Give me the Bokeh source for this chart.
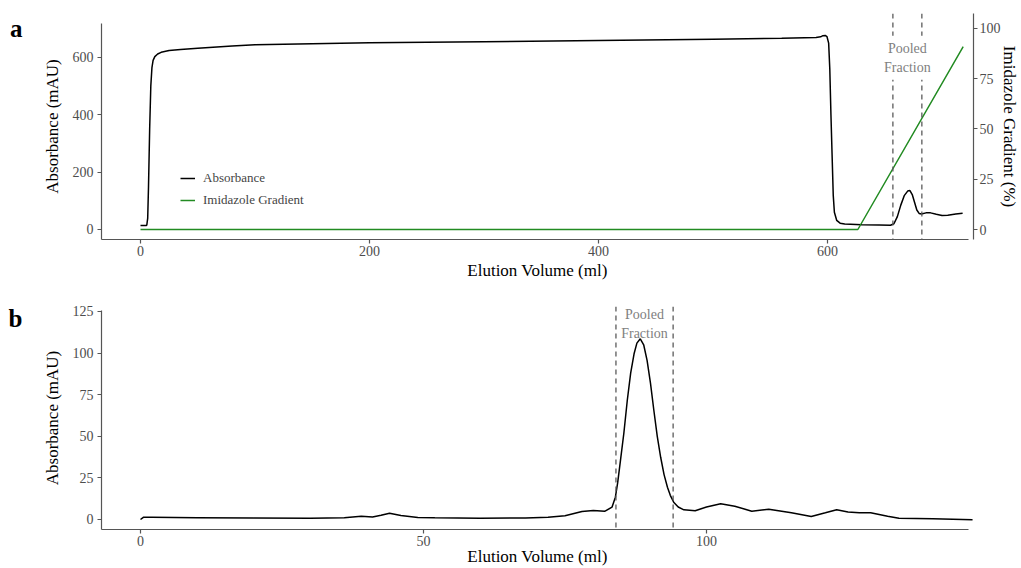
from bokeh.plotting import figure
from bokeh.models import (Range1d, LinearAxis, FixedTicker, Span, Label,
                          Legend, LegendItem)
from bokeh.layouts import column
from bokeh.embed import file_html
from bokeh.resources import INLINE

FONT = "Liberation Serif"

# ---------------- panel a : affinity chromatography ----------------
abs_a_ml = [0, 5, 5.5, 6.3, 7, 8, 9, 10, 11, 12.5, 15, 18, 25, 35, 50, 80, 100,
            150, 200, 300, 400, 500, 560, 590, 594, 596, 598, 599.5, 601, 602,
            603, 604, 605, 606, 608, 611, 615, 630, 645, 655, 658, 661, 664,
            667, 670, 672, 674, 676, 678, 680, 682, 686, 690, 695, 700, 705,
            712, 718]
abs_a_mau = [14, 14, 15, 40, 150, 350, 500, 565, 590, 603, 612, 618, 624, 628,
             632, 640, 644, 648, 651, 655, 659, 664, 667, 670, 672, 676, 677,
             673, 650, 560, 400, 260, 120, 60, 32, 22, 19, 17, 16, 15, 20, 45,
             85, 118, 134, 136, 122, 95, 68, 56, 54, 58, 58, 53, 49, 50, 54, 57]
grad_ml = [0, 626.5, 718.5]
grad_pct = [0, 0, 91]
pooled_a = [657.1, 682.4]
xticks_a = [0, 200, 400, 600]
yticks_a = [0, 200, 400, 600]
yticks_a_right = [0, 25, 50, 75, 100]

# ---------------- panel b : size exclusion ----------------
abs_b_ml = [0, 0.5, 2, 10, 20, 30, 36, 39, 41, 42.5, 44, 46, 49, 52, 60, 68,
            72, 75, 78, 80, 82, 83.3, 83.9, 84.3, 84.8, 85.4, 86.0, 86.6, 87.2,
            87.7, 88.3, 88.9, 89.5, 90.1, 90.7, 91.3, 91.9, 92.5, 93.1, 93.6,
            94.2, 95, 96, 98, 100, 102.5, 105, 108, 111, 115, 118.5, 121,
            123, 125, 127, 129, 132, 134, 140, 147]
abs_b_mau = [0, 1.3, 1.3, 1.1, 0.9, 0.8, 1.1, 2.0, 1.5, 2.5, 3.8, 2.4, 1.2,
             1.0, 0.8, 0.9, 1.3, 2.2, 4.8, 5.4, 4.9, 7.4, 13.4, 22, 35.5, 52,
             71.5, 88, 99.6, 106, 108.6, 105, 95.6, 82, 65.5, 50, 37.4, 27,
             19.4, 14.5, 10.4, 7.5, 5.8, 5.3, 7.5, 9.4, 8, 5, 6.2, 4, 1.8, 4,
             5.8, 4.5, 4.0, 4.0, 2, 0.8, 0.5, -0.2]
pooled_b = [84.0, 94.1]
xticks_b = [0, 50, 100]
yticks_b = [0, 25, 50, 75, 100, 125]

AXIS_COL = "#555555"


def style_axis(ax, ticks):
    ax.ticker = FixedTicker(ticks=ticks)
    ax.minor_tick_line_color = None
    ax.major_tick_out = 4
    ax.major_tick_in = 0
    ax.axis_line_color = AXIS_COL
    ax.axis_line_width = 1.2
    ax.major_tick_line_color = AXIS_COL
    ax.major_tick_line_width = 1.2
    ax.major_label_text_font = FONT
    ax.major_label_text_font_size = "14px"
    ax.major_label_text_color = "#4d4d4d"
    ax.axis_label_text_font = FONT
    ax.axis_label_text_font_size = "17px"
    ax.axis_label_text_font_style = "normal"
    ax.axis_label_text_color = "black"


def base_fig(height, xr, yr, top, bottom):
    p = figure(width=1021, height=height, x_range=xr, y_range=yr,
               output_backend="svg", toolbar_location=None,
               min_border_left=101, min_border_right=48,
               min_border_top=top, min_border_bottom=bottom)
    p.outline_line_color = None
    p.xgrid.visible = False
    p.ygrid.visible = False
    p.background_fill_color = "white"
    p.border_fill_color = "white"
    return p


def add_pooled(p, bounds, y_pooled, y_fraction, boxed):
    for b in bounds:
        p.add_layout(Span(location=b, dimension="height", line_color="#5a5a5a",
                          line_dash="5 4", line_width=1.3))
    mid = (bounds[0] + bounds[1]) / 2
    for txt, yy in (("Pooled", y_pooled), ("Fraction", y_fraction)):
        lab = Label(x=mid, y=yy, x_units="data", y_units="screen",
                    text=txt, text_font=FONT, text_font_size="14px",
                    text_color="#808080", text_align="center",
                    text_baseline="middle")
        if boxed:
            lab.background_fill_color = "white"
            lab.padding = 5
        p.add_layout(lab)


def add_panel_letter(p, letter, ypos):
    # panel letter drawn as the only label of an invisible outer left axis
    ax = LinearAxis(ticker=FixedTicker(ticks=[ypos]),
                    major_label_overrides={ypos: letter})
    ax.axis_line_color = None
    ax.major_tick_line_color = None
    ax.minor_tick_line_color = None
    ax.major_tick_out = 0
    ax.major_label_standoff = 17
    ax.major_label_text_font = FONT
    ax.major_label_text_font_size = "25px"
    ax.major_label_text_font_style = "bold"
    ax.major_label_text_color = "black"
    p.add_layout(ax, "left")


# ---- figure a ----
p1 = base_fig(290, Range1d(-34.06, 727.5), Range1d(-34.88, 753.4), 13, 51)
p1.extra_y_ranges = {"pct": Range1d(-4.975, 107.46)}
style_axis(p1.xaxis[0], xticks_a)
p1.xaxis[0].axis_label = "Elution Volume (ml)"
p1.xaxis[0].bounds = (-34, 723)
p1.xaxis[0].major_label_standoff = 2
p1.xaxis[0].axis_label_standoff = 2
style_axis(p1.yaxis[0], yticks_a)
p1.yaxis[0].axis_label = "Absorbance (mAU)"
p1.yaxis[0].bounds = (-34.88, 718)
p1.yaxis[0].major_label_standoff = 4
p1.yaxis[0].axis_label_standoff = 8
ax_r = LinearAxis(y_range_name="pct", axis_label="Imidazole Gradient (%)")
style_axis(ax_r, yticks_a_right)
ax_r.major_label_standoff = 2
ax_r.axis_label_standoff = -4
p1.add_layout(ax_r, "right")

r_abs = p1.line(abs_a_ml, abs_a_mau, line_color="black", line_width=1.5)
r_grad = p1.line(grad_ml, grad_pct, y_range_name="pct",
                 line_color="#228B22", line_width=1.5)
add_pooled(p1, pooled_a, 191.3, 172.3, True)
add_panel_letter(p1, "a", 701)

legend = Legend(items=[LegendItem(label="Absorbance", renderers=[r_abs]),
                       LegendItem(label="Imidazole Gradient", renderers=[r_grad])],
                location=(79, 29), padding=0, margin=0, spacing=2,
                glyph_width=15, glyph_height=20, label_height=20,
                label_standoff=8, label_text_font=FONT,
                label_text_font_size="13px", border_line_color=None,
                background_fill_alpha=0)
p1.add_layout(legend)

# ---- figure b ----
p2 = base_fig(278, Range1d(-6.89, 147.17), Range1d(-6.01, 128.0), 16, 39)
style_axis(p2.xaxis[0], xticks_b)
p2.xaxis[0].axis_label = "Elution Volume (ml)"
p2.xaxis[0].bounds = (-7, 146.3)
p2.xaxis[0].major_label_standoff = 2
p2.xaxis[0].axis_label_standoff = -2
style_axis(p2.yaxis[0], yticks_b)
p2.yaxis[0].axis_label = "Absorbance (mAU)"
p2.yaxis[0].bounds = (-6.01, 125.3)
p2.yaxis[0].major_label_standoff = 4
p2.yaxis[0].axis_label_standoff = 8

p2.line(abs_b_ml, abs_b_mau, line_color="black", line_width=1.5)
add_pooled(p2, pooled_b, 215, 195.7, False)
add_panel_letter(p2, "b", 121)

layout = column(p1, p2, spacing=0)
open("out.html", "w").write(file_html(layout, INLINE))
